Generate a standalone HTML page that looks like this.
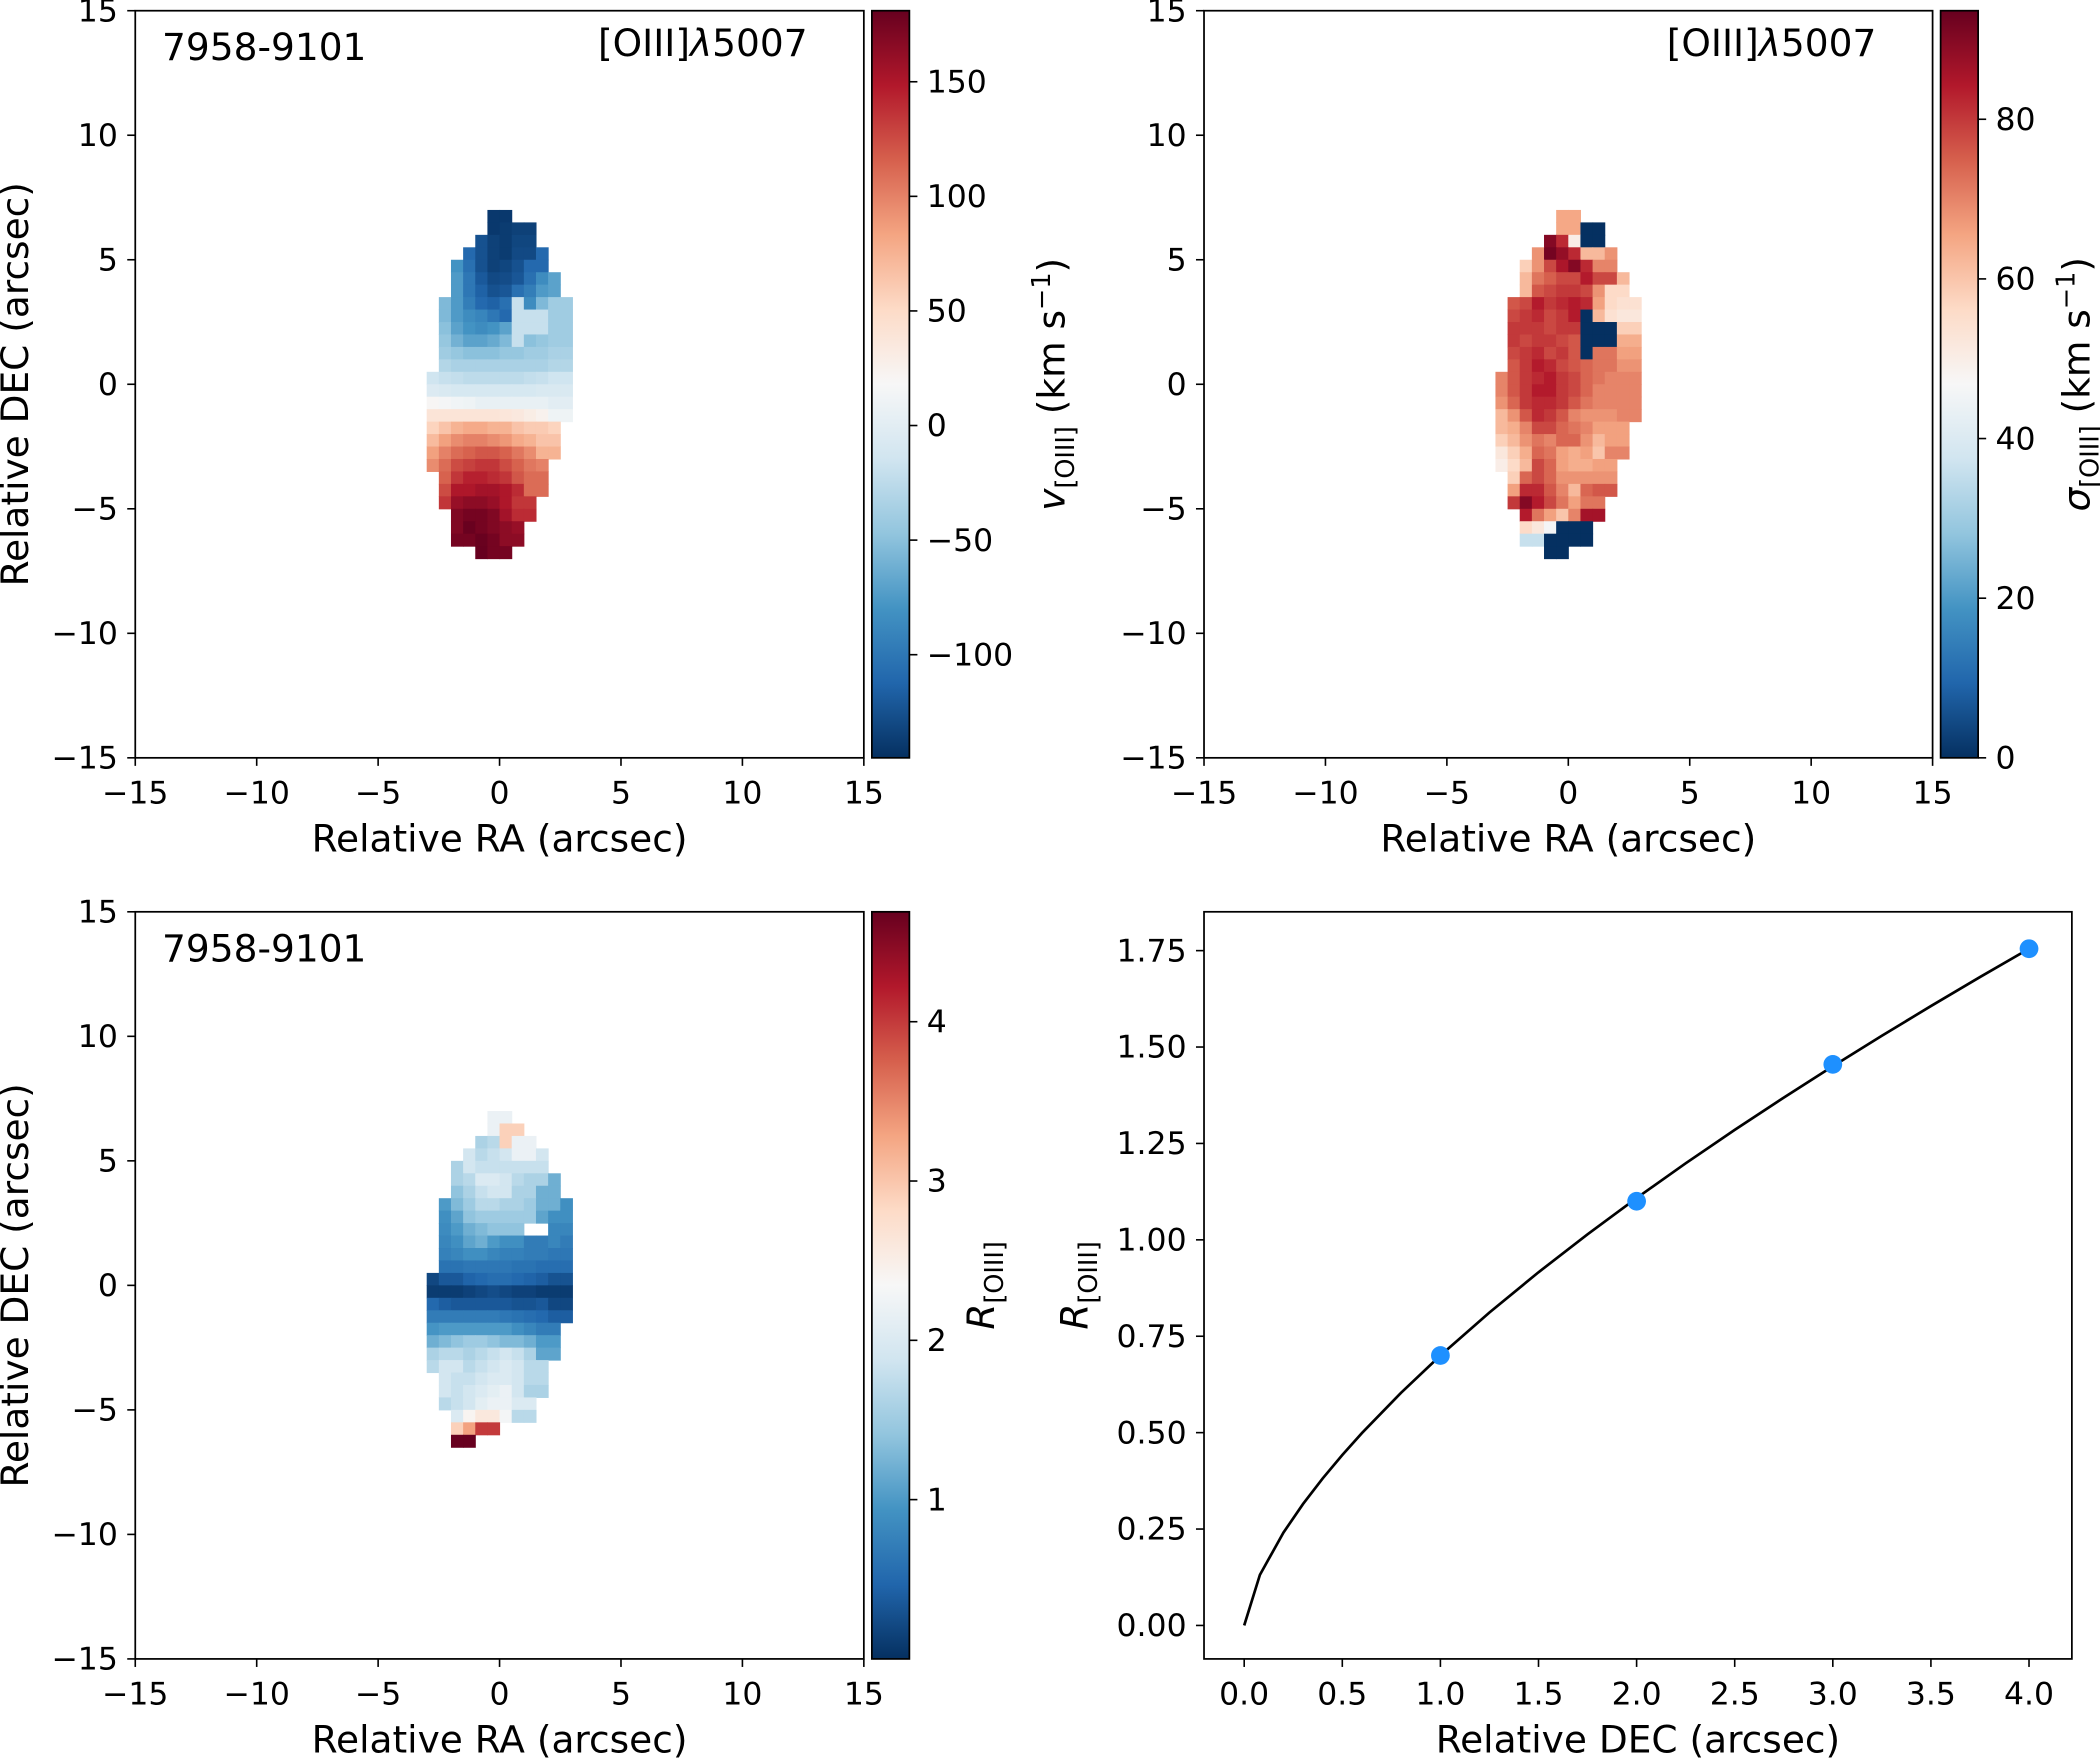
<!DOCTYPE html>
<html><head><meta charset="utf-8">
<style>
html,body{margin:0;padding:0;background:#fff;}
svg{display:block;}
text{font-family:"DejaVu Sans","Liberation Sans",sans-serif;fill:#000;}
</style></head>
<body>
<svg id="fig" width="2100" height="1758" viewBox="0 0 1568 1313" preserveAspectRatio="none" xmlns="http://www.w3.org/2000/svg">
<defs>
<linearGradient id="rdbu" x1="0" y1="1" x2="0" y2="0">
<stop offset="0" stop-color="#053061"/><stop offset="0.1" stop-color="#2166ac"/><stop offset="0.2" stop-color="#4393c3"/><stop offset="0.3" stop-color="#92c5de"/><stop offset="0.4" stop-color="#d1e5f0"/><stop offset="0.5" stop-color="#f7f7f7"/><stop offset="0.6" stop-color="#fddbc7"/><stop offset="0.7" stop-color="#f4a582"/><stop offset="0.8" stop-color="#d6604d"/><stop offset="0.9" stop-color="#b2182b"/><stop offset="1" stop-color="#67001f"/>
</linearGradient>
</defs>
</svg>
<script>
// ---- data ----
const velRows=[
[5,-140,-140],[5,-140,-138,-135,-135],[4,-125,-135,-138,-132,-132],[3,-110,-125,-135,-138,-130,-130,-110],
[2,-80,-105,-125,-135,-132,-125,-110,-110],[2,-75,-100,-120,-130,-128,-122,-105,-85,-70],[2,-75,-100,-115,-125,-122,-105,-95,-75,-70],
[1,-55,-75,-95,-110,-115,-105,-20,-85,-55,-40,-40],[1,-55,-75,-85,-90,-100,-110,-20,-20,-20,-40,-40],
[1,-50,-70,-80,-85,-80,-70,-20,-20,-20,-40,-40],[1,-45,-60,-70,-70,-65,-55,-20,-50,-45,-40,-40],
[1,-40,-45,-50,-50,-50,-45,-45,-40,-40,-35,-35],[1,-30,-35,-35,-35,-35,-35,-35,-35,-35,-30,-30],
[0,-15,-20,-22,-25,-25,-25,-25,-25,-22,-20,-15,-15],[0,-5,-8,-10,-10,-10,-10,-10,-10,-10,-8,-8,-8],
[0,20,15,12,10,5,5,5,5,5,5,0,0],[0,40,40,40,40,40,40,38,35,30,25,10,10],
[0,55,65,75,80,80,75,75,65,60,60,55],[0,70,85,95,100,100,95,90,80,75,65,65],[0,85,100,110,115,120,120,115,105,95,75,75],
[0,95,110,125,130,135,135,125,115,105,100],[1,115,135,145,145,140,135,120,110,110],[1,125,150,150,155,155,150,140,110,110],
[1,135,160,165,165,160,150,135,135],[2,170,175,175,170,155,140,140],[2,170,180,175,170,165,160],[2,175,175,180,175,165,165],[4,181,175,175]
];
const sigRows=[
[5,65,65],[5,65,65,0,0],[4,90,82,50,0,0],[3,68,92,88,82,62,62,68],[2,58,68,78,85,90,82,70,70],
[2,62,72,75,78,78,84,78,78,62],[2,62,76,78,80,80,78,68,56,56],
[1,76,78,84,80,82,84,82,66,56,54,54],[1,78,80,82,78,80,84,0,62,54,52,52],[1,80,80,80,78,80,80,0,0,0,58,58],
[1,80,78,80,80,78,76,0,0,0,64,64],[1,78,80,82,78,80,76,0,72,72,66,66],[1,76,80,84,82,78,76,74,72,72,68,68],
[0,70,76,80,82,84,80,78,74,72,70,70,70],[0,70,76,80,84,84,80,78,74,70,70,70,70],[0,68,74,80,82,82,80,76,72,70,70,70,70],
[0,62,68,76,82,80,76,70,68,68,68,70,70],[0,62,64,70,78,78,74,72,70,66,66,66],[0,58,62,68,72,70,74,74,68,62,66,66],
[0,52,58,64,74,72,66,64,66,60,70,70],[0,50,56,62,78,74,66,64,64,66,66],[1,58,74,78,74,68,68,68,68,68],
[1,66,82,82,76,70,62,74,76,76],[1,80,90,84,78,72,66,72,72],[2,84,72,66,60,70,86,86],[2,56,52,46,0,0,0],[2,36,36,0,0,0,0],[4,0,0]
];
const ratRows=[
[5,2.2,2.2],[5,2.2,2.9,2.9],[4,1.6,1.7,2.9,2.2,2.2],[3,1.9,1.7,1.8,1.9,2.2,2.2,1.9],[2,1.6,1.9,1.8,1.8,1.8,1.8,1.8,1.8],
[2,1.6,1.7,2.0,2.0,1.9,1.7,1.6,1.6,1.2],[2,1.4,1.6,1.8,1.9,1.9,1.6,1.6,1.2,1.2],
[1,1.0,1.3,1.5,1.7,1.7,1.6,1.6,1.5,1.2,1.2,0.9],[1,0.9,1.1,1.4,1.5,1.5,1.5,1.5,1.5,1.1,0.9,0.9],
[1,0.85,1.0,1.2,1.3,1.4,1.4,1.4,null,null,0.8,0.8],[1,0.8,0.9,1.1,1.2,1.0,0.9,0.9,0.7,0.7,0.8,0.7],
[1,0.75,0.8,0.9,0.9,0.8,0.75,0.75,0.7,0.7,0.65,0.65],[1,0.6,0.6,0.65,0.65,0.65,0.65,0.6,0.6,0.55,0.55,0.55],
[0,0.2,0.35,0.35,0.45,0.5,0.55,0.55,0.5,0.45,0.4,0.3,0.3],[0,0.1,0.1,0.1,0.15,0.2,0.25,0.2,0.15,0.15,0.1,0.1,0.1],
[0,0.5,0.4,0.35,0.35,0.35,0.35,0.35,0.3,0.3,0.35,0.2,0.2],[0,0.7,0.7,0.7,0.7,0.7,0.7,0.65,0.6,0.55,0.5,0.4,0.4],
[0,0.95,1.0,1.0,1.0,1.0,1.0,1.0,0.9,0.8,0.7,0.7],[0,1.2,1.3,1.4,1.5,1.5,1.4,1.3,1.3,1.2,1.0,1.0],
[0,1.6,1.7,1.7,1.6,1.7,1.8,1.9,1.8,1.6,1.1,1.1],[0,1.7,1.9,1.9,1.7,1.8,1.9,2.0,1.9,1.7,1.7],
[1,1.9,1.8,1.8,1.9,2.0,2.0,1.9,1.7,1.7],[1,1.9,1.8,1.9,2.0,2.1,2.2,1.9,1.6,1.6],[1,1.7,1.8,1.9,2.1,2.2,2.2,2.0,2.0],
[2,2.0,2.4,2.6,2.6,2.3,1.7,1.7],[2,2.9,3.3,4.0,4.0],[2,4.7,4.7]
];
const mapTicks=[-15,-10,-5,0,5,10,15];
const velTicks=[-100,-50,0,50,100,150];
const sigTicks=[0,20,40,60,80];
const ratTicks=[1,2,3,4];
const profX=[1,2,3,4];
const profY=[0.70,1.10,1.455,1.755];
const fitParams=[0.70,0.663];
const fitX=[0,0.08,0.2,0.3,0.4,0.5,0.6,0.8,1,1.25,1.5,1.75,2,2.25,2.5,2.75,3,3.25,3.5,3.75,4];
const profXTicks=[0,0.5,1,1.5,2,2.5,3,3.5,4];
const profYTicks=[0,0.25,0.5,0.75,1,1.25,1.5,1.75];

// ---- drawing ----
const NS='http://www.w3.org/2000/svg';
const svg=document.getElementById('fig');
const TF=23.5, LF=28;
function el(tag,attrs,parent,txt){const e=document.createElementNS(NS,tag);for(const k in attrs)e.setAttribute(k,attrs[k]);if(txt!==undefined)e.textContent=txt;(parent||svg).appendChild(e);return e;}
const stops=['#053061','#2166ac','#4393c3','#92c5de','#d1e5f0','#f7f7f7','#fddbc7','#f4a582','#d6604d','#b2182b','#67001f'];
function hex(h){return [1,3,5].map(i=>parseInt(h.substr(i,2),16));}
function cmap(t){t=Math.max(0,Math.min(1,t));const p=t*10;const i=Math.min(9,Math.floor(p));const f=p-i;const a=hex(stops[i]),b=hex(stops[i+1]);return 'rgb('+a.map((v,k)=>Math.round(v+(b[k]-v)*f)).join(',')+')';}
function fmt(v){return v<0?'\u2212'+Math.abs(v):String(v);}

function mapPanel(name,x0,y0,w,h,rows,vmin,vmax,cbTicks,cbLabel,opts){
  const g=el('g',{},svg);
  
  
  const sx=v=>x0+(v+15)/30*w, sy=v=>y0+(15-v)/30*h;
  rows.forEach((r,j)=>{const start=r[0];for(let i=1;i<r.length;i++){const v=r[i];if(v===null)continue;
    const rx=-3+0.5*(start+i-1), ry=7-0.5*j;
    const c=el('rect',{x:sx(rx),y:sy(ry),width:sx(rx+0.5)-sx(rx)+0.4,height:sy(ry-0.5)-sy(ry)+0.4,fill:cmap((v-vmin)/(vmax-vmin))},g);
    
    }});
  const fr=el('rect',{x:x0,y:y0,width:w,height:h,fill:'none',stroke:'#000','stroke-width':1.3},g);
  
  
  mapTicks.forEach(t=>{
    el('line',{x1:sx(t),x2:sx(t),y1:y0+h,y2:y0+h+6,stroke:'#000','stroke-width':1.2},g);
    const xl=el('text',{x:sx(t),y:y0+h+34,'font-size':TF,'text-anchor':'middle'},g,fmt(t));
    
    
    el('line',{x1:x0-6,x2:x0,y1:sy(t),y2:sy(t),stroke:'#000','stroke-width':1.2},g);
    const yl=el('text',{x:x0-13,y:sy(t)+8,'font-size':TF,'text-anchor':'end'},g,fmt(t));
    
    
  });
  if(opts.xlabel){const t=el('text',{x:x0+w/2,y:y0+h+70,'font-size':LF,'text-anchor':'middle'},g,'Relative RA (arcsec)');
    }
  if(opts.ylabel){const yt=el('text',{x:0,y:0,'font-size':LF,'text-anchor':'middle',transform:'translate('+(x0-80)+','+(y0+h/2)+') rotate(-90)'},g,'Relative DEC (arcsec)');
  }
  if(opts.id){const t=el('text',{x:x0+20,y:y0+37,'font-size':LF},g,opts.id);}
  if(opts.line){const t=el('text',{x:x0+w-42,y:y0+34,'font-size':LF,'text-anchor':'end'},g);
    el('tspan',{},t,'[OIII]');el('tspan',{'font-style':'italic'},t,'\u03bb');el('tspan',{},t,'5007');}
  const cx=x0+w+6, cw=28;
  const cb=el('rect',{x:cx,y:y0,width:cw,height:h,fill:'url(#rdbu)',stroke:'#000','stroke-width':1.3},g);
  
  const cy=v=>y0+h-(v-vmin)/(vmax-vmin)*h;
  cbTicks.forEach(t=>{el('line',{x1:cx+cw,x2:cx+cw+6,y1:cy(t),y2:cy(t),stroke:'#000','stroke-width':1.2},g);
    const l=el('text',{x:cx+cw+13,y:cy(t)+8,'font-size':TF},g,fmt(t));});
  const lab=el('text',{x:0,y:0,'font-size':LF,'text-anchor':'middle',transform:'translate('+cbLabel.x+','+(y0+h/2)+') rotate(-90)'},g);
  
  el('tspan',{'font-style':'italic'},lab,cbLabel.sym);el('tspan',{'font-size':19,dy:7},lab,'[OIII]');
  if(cbLabel.units){el('tspan',{dy:-7},lab,' (km s');el('tspan',{'font-size':19,dy:-11},lab,'\u22121');el('tspan',{dy:11},lab,')');}
}
mapPanel('velocity-map',101,8,544,558,velRows,-145,181,velTicks,{x:795,sym:'v',units:true},{xlabel:true,ylabel:true,id:'7958-9101',line:true});
mapPanel('dispersion-map',899,8,544,558,sigRows,0,93.6,sigTicks,{x:1560,sym:'\u03c3',units:true},{xlabel:true,line:true});
mapPanel('ratio-map',101,681,544,558,ratRows,0,4.69,ratTicks,{x:742,sym:'R',units:false},{xlabel:true,ylabel:true,id:'7958-9101'});

(function(){
  const x0=899,y0=681,w=648,h=558;
  const g=el('g',{},svg);
  
  
  const sx=v=>929+v*146.5, sy=v=>1214-v*288;
  const fr=el('rect',{x:x0,y:y0,width:w,height:h,fill:'none',stroke:'#000','stroke-width':1.3},g);
  
  profXTicks.forEach(t=>{el('line',{x1:sx(t),x2:sx(t),y1:y0+h,y2:y0+h+6,stroke:'#000','stroke-width':1.2},g);
    const l=el('text',{x:sx(t),y:y0+h+34,'font-size':TF,'text-anchor':'middle'},g,t.toFixed(1));});
  profYTicks.forEach(t=>{el('line',{x1:x0-6,x2:x0,y1:sy(t),y2:sy(t),stroke:'#000','stroke-width':1.2},g);
    const l=el('text',{x:x0-13,y:sy(t)+8,'font-size':TF,'text-anchor':'end'},g,t.toFixed(2));});
  const pts=fitX.map(x=>sx(x)+','+sy(fitParams[0]*Math.pow(x,fitParams[1]))).join(' ');
  const ln=el('polyline',{points:pts,fill:'none',stroke:'#000','stroke-width':2},g);
  
  profX.forEach((x,i)=>{const c=el('circle',{cx:sx(x),cy:sy(profY[i]),r:7,fill:'#1e90ff'},g);
    });
  const xt=el('text',{x:x0+w/2,y:y0+h+70,'font-size':LF,'text-anchor':'middle'},g,'Relative DEC (arcsec)');
  
  const yt=el('text',{x:0,y:0,'font-size':LF,'text-anchor':'middle',transform:'translate(812,'+(y0+h/2)+') rotate(-90)'},g);
  
  el('tspan',{'font-style':'italic'},yt,'R');el('tspan',{'font-size':19,dy:7},yt,'[OIII]');
})();
</script>
</body></html>
